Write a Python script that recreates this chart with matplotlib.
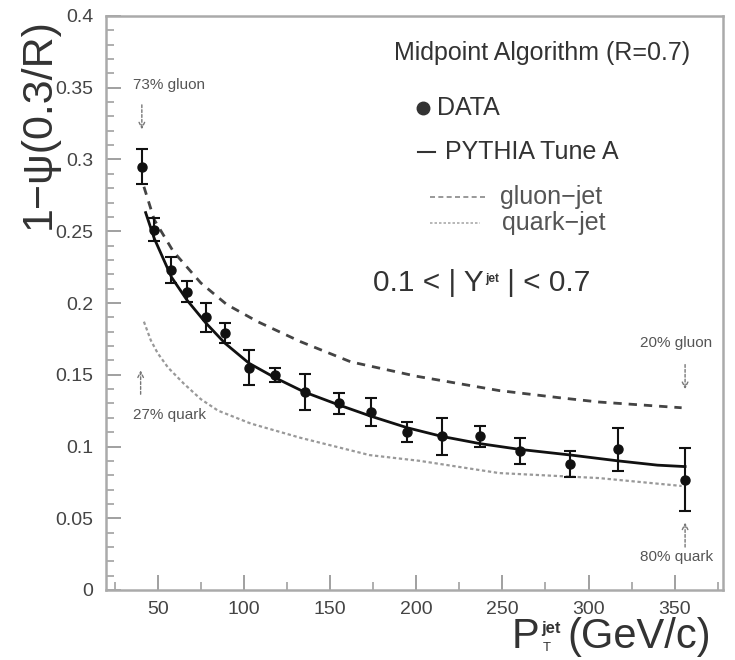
import numpy as np
import matplotlib
matplotlib.use("Agg")
import matplotlib.pyplot as plt
from matplotlib.ticker import MultipleLocator

plt.rcParams["font.family"] = ["Liberation Sans", "DejaVu Sans"]

# data points (jet shape, midpoint R=0.7)
pt_data = [40.8, 48, 58, 67, 78, 89, 103, 118, 135.5, 155, 174, 194.5, 215, 237, 260, 289, 317, 356]
psi_data = [0.295, 0.251, 0.223, 0.208, 0.190, 0.179, 0.155, 0.150, 0.138, 0.130, 0.124, 0.110,
            0.107, 0.107, 0.097, 0.088, 0.098, 0.077]
psi_err = [0.012, 0.008, 0.009, 0.007, 0.010, 0.007, 0.012, 0.005, 0.0125, 0.0075, 0.010, 0.007,
           0.013, 0.007, 0.009, 0.009, 0.015, 0.022]

# PYTHIA Tune A
pt_pyth = [43, 48, 58, 67, 78, 89, 103, 118, 135, 155, 174, 195, 215, 237, 260, 290, 317, 340, 356]
psi_pyth = [0.263, 0.245, 0.218, 0.202, 0.186, 0.172, 0.158, 0.148, 0.138, 0.129, 0.121, 0.113,
            0.107, 0.102, 0.098, 0.094, 0.090, 0.087, 0.086]

# gluon-jet
pt_gluon = [42, 48, 59, 75, 90, 108, 133, 162, 200, 248, 283, 306, 354]
psi_gluon = [0.281, 0.258, 0.236, 0.214, 0.199, 0.187, 0.173, 0.159, 0.149, 0.139, 0.134, 0.131, 0.127]

# quark-jet
pt_quark = [42, 46, 50, 56, 65, 75, 85, 104, 133, 173, 202, 248, 306, 354]
psi_quark = [0.187, 0.174, 0.165, 0.155, 0.144, 0.133, 0.125, 0.116, 0.106, 0.094, 0.090, 0.0815,
             0.078, 0.0725]

fig = plt.figure(figsize=(7.35, 6.6), dpi=100)
ax = fig.add_axes([106 / 735, 70 / 660, 617 / 735, 574 / 660])

ax.plot(pt_gluon, psi_gluon, color="#444444", lw=2, ls=(0, (3, 2.5)))
ax.plot(pt_quark, psi_quark, color="#999999", lw=1.6, ls=(0, (1.5, 1.2)))
ax.plot(pt_pyth, psi_pyth, color="#111111", lw=2)
ax.errorbar(pt_data, psi_data, yerr=psi_err, fmt="o", color="#111111", ms=6.5,
            elinewidth=1.5, capsize=4, capthick=1.5)

ax.set_xlim(20, 378)
ax.set_ylim(0, 0.4)
ax.xaxis.set_minor_locator(MultipleLocator(25))
ax.yaxis.set_minor_locator(MultipleLocator(0.01))
ax.set_yticks(np.arange(0, 0.41, 0.05))
ax.set_yticklabels(["0", "0.05", "0.1", "0.15", "0.2", "0.25", "0.3", "0.35", "0.4"])
ax.set_xticks(np.arange(50, 351, 50))
ax.tick_params(which="both", direction="in", color="#999999", top=False, right=False)
ax.tick_params(which="major", length=11, width=1.3, labelsize=14, labelcolor="#444444", pad=9)
ax.tick_params(which="minor", length=6, width=1.1)
ax.tick_params(axis="x", pad=8)
for s in ax.spines.values():
    s.set_color("#aaaaaa")
    s.set_linewidth(1.8)

# axis titles
fig.text(39 / 735, 1 - 124 / 660, "1\u2212\u03c8(0.3/R)", rotation=90, fontsize=31,
         color="#333333", ha="center", va="center")
tp = fig.text(512 / 735, 1 - 648 / 660, "P", fontsize=30, color="#333333", ha="left", va="baseline")
jet = ax.annotate("jet", xy=(1, 1), xycoords=tp, xytext=(1, -3), textcoords="offset points",
                  fontsize=12, weight="bold", color="#333333", ha="left", va="top",
                  annotation_clip=False)
ax.annotate("T", xy=(1, 0), xycoords=tp, xytext=(2, 2), textcoords="offset points",
            fontsize=9.5, color="#333333", ha="left", va="bottom", annotation_clip=False)
ax.annotate("(GeV/c)", xy=(1, 0), xycoords=(jet, tp), xytext=(5, 0), textcoords="offset points",
            fontsize=30, color="#333333", ha="left", va="bottom", annotation_clip=False)

# legend block
def axpos(px, py):
    return (px - 106) / 617, (590 - py) / 574

tr = ax.transAxes
x0, y0 = axpos(542, 53)
ax.text(x0, y0, "Midpoint Algorithm (R=0.7)", transform=tr, fontsize=18, color="#333333",
        ha="center", va="center")
mx, my = axpos(423, 108)
ax.plot([mx], [my], "o", color="#333333", ms=9, transform=tr)
ax.text(axpos(437, 0)[0], my, "DATA", transform=tr, fontsize=18, color="#333333", va="center")
lx0, ly = axpos(418, 152)
lx1, _ = axpos(435, 152)
ax.plot([lx0, lx1], [ly, ly], color="#333333", lw=1.5, transform=tr)
ax.text(axpos(445, 0)[0], ly, "PYTHIA Tune A", transform=tr, fontsize=18, color="#333333", va="center")
gx0, gy = axpos(430, 197)
gx1, _ = axpos(485, 197)
ax.plot([gx0, gx1], [gy, gy], color="#888888", lw=1.2, ls=(0, (3, 2)), transform=tr)
ax.text(axpos(500, 0)[0], gy, "gluon\u2212jet", transform=tr, fontsize=18, color="#555555", va="center")
qx0, qy = axpos(430, 223)
qx1, _ = axpos(480, 223)
ax.plot([qx0, qx1], [qy, qy], color="#aaaaaa", lw=1.2, ls=(0, (1.5, 1.2)), transform=tr)
ax.text(axpos(502, 0)[0], qy, "quark\u2212jet", transform=tr, fontsize=18, color="#555555", va="center")

tx, ty = axpos(373, 283)
t1 = ax.text(tx, ty, "0.1 < | Y", transform=tr, fontsize=21.5, color="#333333", va="center")
tsup = ax.annotate("jet", xy=(1, 1), xycoords=t1, xytext=(1, -3), textcoords="offset points",
                   fontsize=8.5, weight="bold", color="#333333", ha="left", va="top")
ax.annotate(" | < 0.7", xy=(1, 0), xycoords=(tsup, t1), fontsize=21.5, color="#333333",
            ha="left", va="bottom")

# fraction annotations
arrow = dict(arrowstyle="->", color="#777777", lw=1, ls=(0, (2, 1.5)))
ax.annotate("", xy=(40.8, 0.319), xytext=(40.8, 0.340), arrowprops=arrow)
ax.text(56.4, 0.352, "73% gluon", fontsize=11, color="#555555", ha="center", va="center")
ax.annotate("", xy=(40.1, 0.155), xytext=(40.1, 0.1345), arrowprops=arrow)
ax.text(57, 0.122, "27% quark", fontsize=11, color="#555555", ha="center", va="center")
ax.annotate("", xy=(356, 0.138), xytext=(356, 0.159), arrowprops=arrow)
ax.text(351, 0.172, "20% gluon", fontsize=11, color="#555555", ha="center", va="center")
ax.annotate("", xy=(356, 0.049), xytext=(356, 0.028), arrowprops=arrow)
ax.text(351, 0.023, "80% quark", fontsize=11, color="#555555", ha="center", va="center")

fig.savefig("out.png", dpi=100)
